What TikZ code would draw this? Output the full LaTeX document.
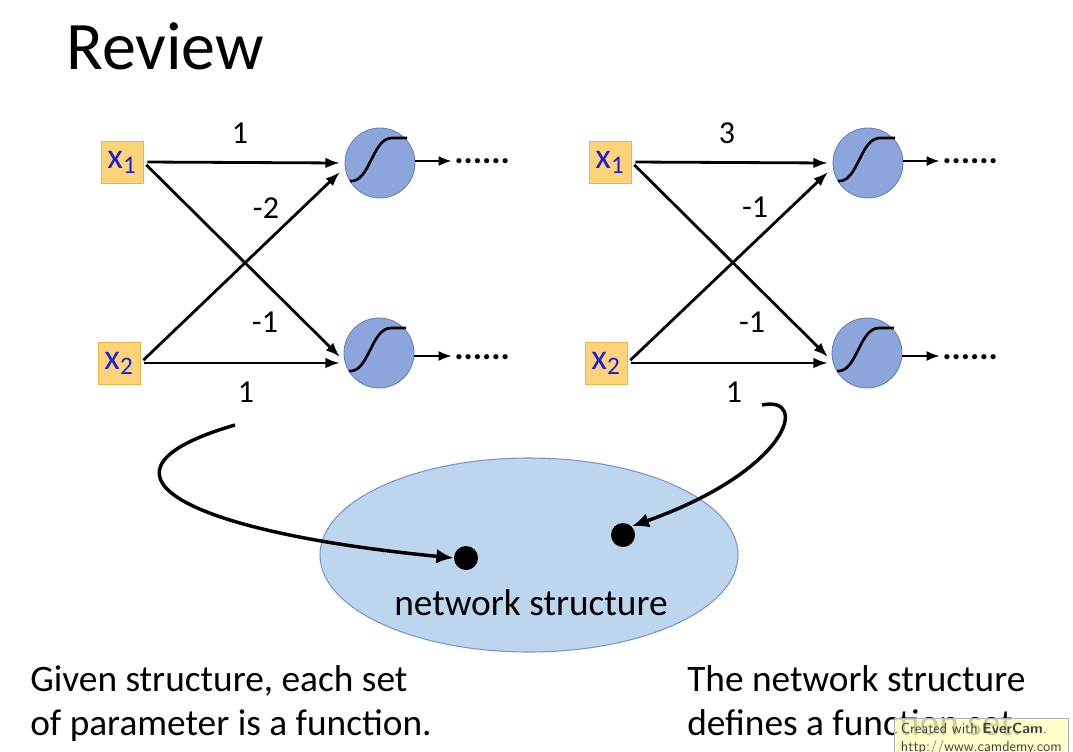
\documentclass[tikz,border=0pt]{standalone}
\usepackage{fontspec}
\setmainfont{Carlito}
\usetikzlibrary{arrows.meta,shapes.geometric,calc}
\definecolor{boxfill}{RGB}{252,211,120}
\definecolor{boxline}{RGB}{240,180,70}
\definecolor{xblue}{RGB}{30,30,210}
\definecolor{neufill}{RGB}{140,166,220}
\definecolor{neuline}{RGB}{95,125,185}
\definecolor{ellfill}{RGB}{189,214,238}
\definecolor{ellline}{RGB}{120,150,205}
\definecolor{wmfill}{RGB}{255,255,190}
\newcommand{\sigm}[1]{\draw[line width=2pt] ($(#1)+(-30,18)$) .. controls ($(#1)+(-10,20)$) and ($(#1)+(-8,-25)$) .. ($(#1)+(12,-25)$) -- ($(#1)+(27,-25)$);}
\begin{document}
\begin{tikzpicture}[x=0.75pt,y=-0.75pt,
  inbox/.style={draw=boxline,fill=boxfill,line width=0.6pt,minimum width=31.5pt,minimum height=31.5pt,inner sep=0pt,text=xblue,font=\fontsize{27}{29}\selectfont},
  neuron/.style={circle,draw=neuline,fill=neufill,line width=0.6pt,minimum size=52.5pt,inner sep=0pt},
  wire/.style={line width=2.1pt,-{Latex[length=11pt,width=8pt]},shorten <=3pt},
  outwire/.style={line width=2.1pt,-{Latex[length=10pt,width=7.5pt]}},
  wlabel/.style={font=\fontsize{24}{26}\selectfont,inner sep=0pt},
  dotsl/.style={font=\fontsize{26}{28}\selectfont\bfseries,inner sep=0pt,anchor=base west},
  bigdot/.style={circle,fill=black,minimum size=18pt,inner sep=0pt},
  curvearrow/.style={line width=2.6pt,-{Latex[length=13pt,width=11pt]}},
  bodytext/.style={font=\fontsize{28}{32.5}\selectfont,inner sep=0pt,anchor=base west}
]
\useasboundingbox[fill=white] (0,0) rectangle (1073,752);
% title
\node[anchor=base west,inner sep=0pt,font=\fontsize{51}{55}\selectfont] (title) at (66,70) {Review};
% left network
\node[inbox] (ax1) at (122,162) {x\textsubscript{1}};
\node[inbox] (ax2) at (119,363) {x\textsubscript{2}};
\node[neuron] (an1) at (380,163) {};
\node[neuron] (an2) at (379,353) {};
\sigm{an1}
\sigm{an2}
\coordinate (an1a) at (340,163);
\coordinate (an1b) at (340,172);
\coordinate (an2a) at (340,363);
\coordinate (an2b) at (340,357);
\draw[wire] (ax1.east) -- (an1a);
\draw[wire] (ax1.east) -- (an2b);
\draw[wire] (ax2.east) -- (an1b);
\draw[wire] (ax2.east) -- (an2a);
\node[wlabel] (al1) at (240,133) {1};
\node[wlabel] (al2) at (266,208) {-2};
\node[wlabel] (al3) at (265,322) {-1};
\node[wlabel] (al4) at (246,392) {1};
\coordinate (ao1) at (452,161);
\coordinate (ao2) at (452,356);
\draw[outwire] (an1.east |- ao1) -- (ao1);
\draw[outwire] (an2.east |- ao2) -- (ao2);
\node[dotsl] (ad1) at (454,164) {......};
\node[dotsl] (ad2) at (454,359) {......};
% right network
\node[inbox] (bx1) at (610,162) {x\textsubscript{1}};
\node[inbox] (bx2) at (606,363) {x\textsubscript{2}};
\node[neuron] (bn1) at (868,163) {};
\node[neuron] (bn2) at (867,353) {};
\sigm{bn1}
\sigm{bn2}
\coordinate (bn1a) at (828,163);
\coordinate (bn1b) at (828,172);
\coordinate (bn2a) at (828,363);
\coordinate (bn2b) at (828,357);
\draw[wire] (bx1.east) -- (bn1a);
\draw[wire] (bx1.east) -- (bn2b);
\draw[wire] (bx2.east) -- (bn1b);
\draw[wire] (bx2.east) -- (bn2a);
\node[wlabel] (bl1) at (727,133) {3};
\node[wlabel] (bl2) at (755,207) {-1};
\node[wlabel] (bl3) at (752,322) {-1};
\node[wlabel] (bl4) at (734,392) {1};
\coordinate (bo1) at (940,161);
\coordinate (bo2) at (940,356);
\draw[outwire] (bn1.east |- bo1) -- (bo1);
\draw[outwire] (bn2.east |- bo2) -- (bo2);
\node[dotsl] (bd1) at (942,164) {......};
\node[dotsl] (bd2) at (942,359) {......};
% ellipse
\node[ellipse,draw=ellline,fill=ellfill,line width=0.8pt,minimum width=313.5pt,minimum height=145.5pt] (ns) at (529,555) {};
\node[font=\fontsize{28}{30}\selectfont,inner sep=0pt] (nslabel) at (531,603) {network structure};
\node[bigdot] (d1) at (466,558) {};
\node[bigdot] (d2) at (623,535) {};
\coordinate (c1) at (235,425);
\coordinate (c2) at (762,405);
\draw[curvearrow] (c1) .. controls (80,470) and (170,530) .. (d1.west);
\draw[curvearrow] (c2) .. controls (810,395) and (790,470) .. (d2.north east);
% bottom texts
\node[bodytext] (t1a) at (30,691) {Given structure, each set};
\node[bodytext] (t1b) at (30,735) {of parameter is a function.};
\node[bodytext] (t2a) at (687,691) {The network structure};
\node[bodytext] (t2b) at (687,735) {defines a function set.};
% watermark
\node[draw=gray!60,fill=wmfill,fill opacity=0.8,text opacity=1,anchor=north west,inner xsep=5pt,inner ysep=4pt,align=left,font=\fontsize{11}{13}\selectfont\sffamily,text=black!75] (wm) at (894,718) {Created with \textbf{EverCam}.\\http://www.camdemy.com};
\end{tikzpicture}
\end{document}
